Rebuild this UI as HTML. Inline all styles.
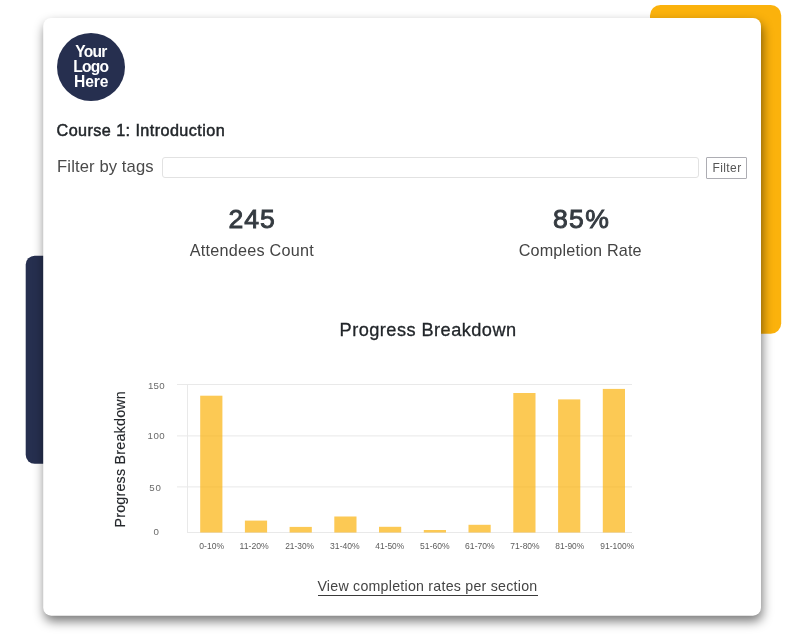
<!DOCTYPE html>
<html lang="en">
<head>
<meta charset="utf-8">
<title>Course 1: Introduction</title>
<style>
html,body{margin:0;padding:0;}
body{width:800px;height:644px;background:#fff;position:relative;overflow:hidden;
  font-family:"Liberation Sans",sans-serif;color:#212529;}
svg.art{position:absolute;left:0;top:0;display:block;}
svg.art text{font-family:"Liberation Sans",sans-serif;white-space:pre;}
.card{position:absolute;left:0;top:0;width:800px;height:644px;}
.card > *, .logo > span{position:absolute;margin:0;padding:0;white-space:pre;line-height:1;
  font-family:"Liberation Sans",sans-serif;}
.logo{left:57px;top:33px;width:68px;height:68px;border-radius:50%;background:#262f4f;}
.logo > span{display:block;}
input.tags{left:162px;top:157px;width:537px;height:21px;box-sizing:border-box;border:1px solid #e2e2e2;
  border-radius:3px;background:#fff;outline:none;-webkit-appearance:none;appearance:none;}
button.filter{left:706px;top:157px;width:41px;height:22px;box-sizing:border-box;border:1px solid #adadb3;
  border-radius:1px;background:#fff;-webkit-appearance:none;appearance:none;}
button.filter span{position:absolute;white-space:pre;line-height:1;}
a#link{text-decoration:none;}
.rule{left:317.5px;top:595px;width:220.5px;height:1px;background:#3a3a3a;}
#l1{left:18.30px;top:10.79px;font-size:15.6px;letter-spacing:-0.758px;color:#ffffff;font-weight:bold;}
#l2{left:16.30px;top:25.79px;font-size:15.6px;letter-spacing:-0.770px;color:#ffffff;font-weight:bold;}
#l3{left:17.00px;top:40.79px;font-size:15.6px;letter-spacing:-0.096px;color:#ffffff;font-weight:bold;}
#course{left:56.60px;top:122.29px;font-size:16.2px;letter-spacing:0.418px;color:#212529;font-weight:normal;-webkit-text-stroke:0.48px #212529;paint-order:stroke fill;}
#fbt{left:57.10px;top:158.95px;font-size:16.6px;letter-spacing:0.115px;color:#4a4a4a;font-weight:normal;}
#btnt{left:5.40px;top:3.84px;font-size:12px;letter-spacing:0.426px;color:#555555;font-weight:normal;}
#n245{left:228.60px;top:206.48px;font-size:26.6px;letter-spacing:0.912px;color:#343a40;font-weight:normal;-webkit-text-stroke:0.9px #343a40;paint-order:stroke fill;}
#att{left:189.80px;top:242.29px;font-size:16.2px;letter-spacing:0.243px;color:#444444;font-weight:normal;}
#n85{left:553.00px;top:206.48px;font-size:26.6px;letter-spacing:1.283px;color:#343a40;font-weight:normal;-webkit-text-stroke:0.9px #343a40;paint-order:stroke fill;}
#comp{left:518.70px;top:242.29px;font-size:16.2px;letter-spacing:0.169px;color:#444444;font-weight:normal;}
#pb{left:339.60px;top:320.59px;font-size:18.2px;letter-spacing:0.454px;color:#212529;font-weight:normal;-webkit-text-stroke:0.3px #212529;paint-order:stroke fill;}
#link{left:317.40px;top:578.98px;font-size:14.2px;letter-spacing:0.248px;color:#444444;font-weight:normal;}
</style>
</head>
<body>
<svg class="art" width="800" height="644" viewBox="0 0 800 644" role="img" aria-label="Progress Breakdown bar chart">
  <defs>
    <filter id="sh" x="-10%" y="-10%" width="120%" height="120%" color-interpolation-filters="sRGB">
      <feGaussianBlur stdDeviation="5.2"/>
    </filter>
  </defs>
  <!-- decorative blocks behind the card -->
  <rect x="25.7" y="255.7" width="40" height="208.1" rx="9" ry="9" fill="#262f4f"/>
  <rect x="650" y="5" width="131.2" height="328.8" rx="10.5" ry="10.5" fill="#fbb20c"/>
  <!-- card -->
  <rect x="44.4" y="23.5" width="717.8" height="597.7" rx="8" ry="8" fill="#000" fill-opacity="0.53" filter="url(#sh)"/>
  <rect x="43.2" y="18" width="717.8" height="597.7" rx="8" ry="8" fill="#fff"/>
  <!-- chart grid -->
  <g stroke="#e9e9e9" stroke-width="1">
    <line x1="177" y1="384.5" x2="632" y2="384.5"/>
    <line x1="177" y1="435.9" x2="632" y2="435.9"/>
    <line x1="177" y1="486.9" x2="632" y2="486.9"/>
    <line x1="187" y1="532.5" x2="632" y2="532.5"/>
    <line x1="187.5" y1="384" x2="187.5" y2="533"/>
  </g>
  <g fill="#fbb20c" fill-opacity="0.7">
    <rect x="200.2" y="395.7" width="22.2" height="136.8"/>
    <rect x="244.9" y="520.6" width="22.2" height="11.9"/>
    <rect x="289.6" y="526.9" width="22.2" height="5.6"/>
    <rect x="334.3" y="516.5" width="22.2" height="16.0"/>
    <rect x="379.0" y="526.8" width="22.2" height="5.7"/>
    <rect x="423.8" y="530.0" width="22.2" height="2.5"/>
    <rect x="468.5" y="524.8" width="22.2" height="7.7"/>
    <rect x="513.3" y="393.0" width="22.2" height="139.5"/>
    <rect x="558.1" y="399.4" width="22.2" height="133.1"/>
    <rect x="602.8" y="388.9" width="22.2" height="143.6"/>
  </g>
  <!-- text -->
  <text id="y150" x="148.00" y="388.85" font-size="9.7" fill="#6a6a6a" textLength="16.60" lengthAdjust="spacing">150</text>
  <text id="y100" x="147.60" y="439.10" font-size="9.7" fill="#6a6a6a" textLength="17.10" lengthAdjust="spacing">100</text>
  <text id="y50" x="149.20" y="490.85" font-size="9.7" fill="#6a6a6a" textLength="11.60" lengthAdjust="spacing">50</text>
  <text id="y0" x="153.40" y="535.35" font-size="9.7" fill="#6a6a6a" textLength="6.50" lengthAdjust="spacing">0</text>
  <text id="x1" x="199.35" y="549.10" font-size="9.6" fill="#5c5c5c" textLength="24.80" lengthAdjust="spacingAndGlyphs">0-10%</text>
  <text id="x2" x="239.60" y="549.10" font-size="9.6" fill="#5c5c5c" textLength="29.20" lengthAdjust="spacingAndGlyphs">11-20%</text>
  <text id="x3" x="285.20" y="549.10" font-size="9.6" fill="#5c5c5c" textLength="28.80" lengthAdjust="spacingAndGlyphs">21-30%</text>
  <text id="x4" x="330.10" y="549.10" font-size="9.6" fill="#5c5c5c" textLength="29.55" lengthAdjust="spacingAndGlyphs">31-40%</text>
  <text id="x5" x="375.35" y="549.10" font-size="9.6" fill="#5c5c5c" textLength="28.80" lengthAdjust="spacingAndGlyphs">41-50%</text>
  <text id="x6" x="420.10" y="549.10" font-size="9.6" fill="#5c5c5c" textLength="29.55" lengthAdjust="spacingAndGlyphs">51-60%</text>
  <text id="x7" x="465.10" y="549.10" font-size="9.6" fill="#5c5c5c" textLength="29.55" lengthAdjust="spacingAndGlyphs">61-70%</text>
  <text id="x8" x="510.35" y="549.10" font-size="9.6" fill="#5c5c5c" textLength="29.30" lengthAdjust="spacingAndGlyphs">71-80%</text>
  <text id="x9" x="555.35" y="549.10" font-size="9.6" fill="#5c5c5c" textLength="28.80" lengthAdjust="spacingAndGlyphs">81-90%</text>
  <text id="x10" x="600.35" y="549.10" font-size="9.6" fill="#5c5c5c" textLength="33.80" lengthAdjust="spacingAndGlyphs">91-100%</text>
  <text id="ytitle" transform="translate(125.40 527.60) rotate(-90)" font-size="14.3" fill="#25282c" textLength="136.40" lengthAdjust="spacing" stroke="#25282c" stroke-width="0.15" stroke-linejoin="round">Progress Breakdown</text>
</svg>
<main class="card">
  <div class="logo"><span id="l1">Your</span><span id="l2">Logo</span><span id="l3">Here</span></div>
  <h1 id="course">Course 1: Introduction</h1>
  <label id="fbt" for="tags">Filter by tags</label>
  <input class="tags" id="tags" type="text">
  <button class="filter" type="button"><span id="btnt">Filter</span></button>
  <div id="n245">245</div>
  <div id="att">Attendees Count</div>
  <div id="n85">85%</div>
  <div id="comp">Completion Rate</div>
  <h2 id="pb">Progress Breakdown</h2>
  <a id="link" href="#">View completion rates per section</a>
  <div class="rule"></div>
</main>
</body>
</html>
